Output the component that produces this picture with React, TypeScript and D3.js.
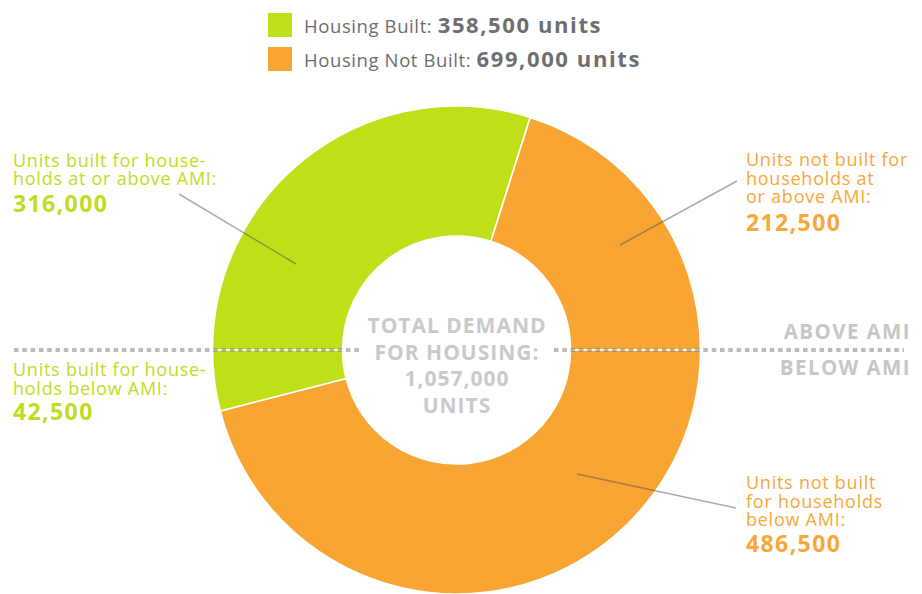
import React from "react";
import * as d3 from "d3";

const sliceKeys = ["builtAbove", "notBuiltAbove", "notBuiltBelow", "builtBelow"];
const sliceValues = [316000, 212500, 486500, 42500];
const sliceGroups = ["built", "notBuilt", "notBuilt", "built"];
const sliceLabelLines = [
  ["Units built for house-", "holds at or above AMI:"],
  ["Units not built for", "households at", "or above AMI:"],
  ["Units not built", "for households", "below AMI:"],
  ["Units built for house-", "holds below AMI:"],
];
const sliceValueLabels = ["316,000", "212,500", "486,500", "42,500"];

const legendGroups = ["built", "notBuilt"];
const legendLabels = ["Housing Built:", "Housing Not Built:"];
const legendValues = ["358,500 units", "699,000 units"];

const centerLines = ["TOTAL DEMAND", "FOR HOUSING:", "1,057,000", "UNITS"];
const dividerLabels = ["ABOVE AMI", "BELOW AMI"];

const W = 922;
const H = 594;
const cx = 456.5;
const cy = 350;
const outerR = 244;
const innerR = 114;

const colorScale = d3
  .scaleOrdinal<string, string>()
  .domain(["built", "notBuilt"])
  .range(["#bfdf19", "#f9a533"]);
const textColor = d3
  .scaleOrdinal<string, string>()
  .domain(["built", "notBuilt"])
  .range(["#bfdc1f", "#f8a739"]);

// label layout (positions only)
const labelLayout = [
  { x: 13, y: 167, lh: 18, numGap: 27, line: [179, 194, 296, 264] },
  { x: 746, y: 166, lh: 18.5, numGap: 28, line: [737, 181, 620, 245] },
  { x: 746, y: 489, lh: 18.5, numGap: 26, line: [736, 508, 577, 474] },
  { x: 13, y: 376, lh: 19, numGap: 25, line: null },
];

const FONT = "'Open Sans', 'DejaVu Sans', sans-serif";

export default function App() {
  const pie = d3
    .pie<number>()
    .sort(null)
    .startAngle(-Math.PI / 2)
    .endAngle(1.5 * Math.PI);
  const arcs = pie(sliceValues);
  const arc = d3.arc<d3.PieArcDatum<number>>().innerRadius(innerR).outerRadius(outerR);

  return (
    <svg
      width={W}
      height={H}
      style={{ position: "absolute", left: 0, top: 0, background: "#fff" }}
      fontFamily={FONT}
    >
      {/* legend */}
      {legendGroups.map((g, i) => (
        <g key={g} transform={`translate(268, ${13 + i * 34})`}>
          <rect width={24} height={24} fill={colorScale(g)} />
          <text x={36} y={20} fontSize={18.5} fill="#6d6e70" letterSpacing={0.6}>
            {legendLabels[i]}{" "}
            <tspan fontWeight={700} fontSize={22} letterSpacing={1.6}>{legendValues[i]}</tspan>
          </text>
        </g>
      ))}

      {/* donut */}
      <g transform={`translate(${cx}, ${cy})`}>
        {arcs.map((a, i) => (
          <path
            key={sliceKeys[i]}
            d={arc(a) || ""}
            fill={colorScale(sliceGroups[i])}
            stroke="#fff"
            strokeWidth={1.6}
          />
        ))}
      </g>

      {/* divider dotted line */}
      <line x1={14} x2={362} y1={cy} y2={cy} stroke="rgba(120,120,120,0.5)" strokeWidth={4} strokeDasharray="4.5 3.8" />
      <line x1={554} x2={904} y1={cy} y2={cy} stroke="rgba(120,120,120,0.5)" strokeWidth={4} strokeDasharray="4.5 3.8" />

      {/* divider labels */}
      <text x={911} y={339} textAnchor="end" fontSize={20.5} fontWeight={700} fill="#c6c6c6" letterSpacing={1.4}>
        {dividerLabels[0]}
      </text>
      <text x={911} y={375} textAnchor="end" fontSize={20.5} fontWeight={700} fill="#c6c6c6" letterSpacing={1.4}>
        {dividerLabels[1]}
      </text>

      {/* center text */}
      {centerLines.map((t, i) => (
        <text
          key={t}
          x={cx + 0.5}
          y={333 + i * 26.7}
          textAnchor="middle"
          fontSize={21}
          fontWeight={700}
          fill="#c9c9c9"
          letterSpacing={1.0}
        >
          {t}
        </text>
      ))}

      {/* leader lines */}
      {labelLayout.map((l, i) =>
        l.line ? (
          <line
            key={"ll" + i}
            x1={l.line[0]}
            y1={l.line[1]}
            x2={l.line[2]}
            y2={l.line[3]}
            stroke="rgba(70,70,70,0.45)"
            strokeWidth={1.5}
          />
        ) : null
      )}

      {/* slice labels */}
      {labelLayout.map((l, i) => {
        const lines = sliceLabelLines[i];
        const col = textColor(sliceGroups[i]);
        return (
          <g key={"lbl" + i}>
            {lines.map((t, j) => (
              <text key={j} x={l.x} y={l.y + j * l.lh} fontSize={18} fill={col} letterSpacing={0.75}>
                {t}
              </text>
            ))}
            <text
              x={l.x}
              y={l.y + (lines.length - 1) * l.lh + l.numGap}
              fontSize={23}
              fontWeight={700}
              fill={col}
              letterSpacing={1.4}
            >
              {sliceValueLabels[i]}
            </text>
          </g>
        );
      })}
    </svg>
  );
}
